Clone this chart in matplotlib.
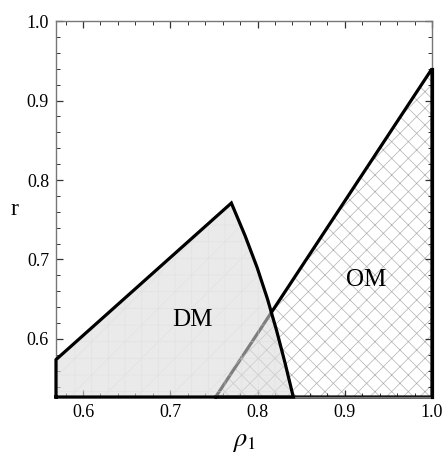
import numpy as np
import matplotlib
matplotlib.use("Agg")
import matplotlib.pyplot as plt
from matplotlib.ticker import MultipleLocator

plt.rcParams['font.family'] = ['Liberation Serif', 'DejaVu Serif']
plt.rcParams['mathtext.fontset'] = 'stix'
plt.rcParams['hatch.linewidth'] = 0.5

# region boundaries
dm_x = [0.569, 0.569, 0.770, 0.7857, 0.7995, 0.8115, 0.8220, 0.8315, 0.841]
dm_y = [0.527, 0.574, 0.771, 0.730, 0.690, 0.650, 0.610, 0.570, 0.527]
om_x = [0.752, 1.000, 1.000]
om_y = [0.527, 0.940, 0.527]
labels = ["DM", "OM"]
label_x = [0.725, 0.925]
label_y = [0.624, 0.674]

fig = plt.figure(figsize=(4.43, 4.53), dpi=100)
ax = fig.add_axes([0.1264, 0.1236, 0.8488, 0.830])

# OM: crosshatched region
ax.fill(om_x, om_y, facecolor='white', edgecolor='#b0b0b0', hatch='xx', linewidth=0, zorder=1)
ax.plot(om_x + [om_x[0]], om_y + [om_y[0]], color='black', lw=2.3,
        solid_joinstyle='miter', clip_on=False, zorder=2)

# DM: translucent gray region on top
ax.fill(dm_x, dm_y, facecolor=(0.86, 0.86, 0.86), alpha=0.58, edgecolor='none', zorder=3)
ax.fill(dm_x, dm_y, facecolor='none', edgecolor='#dadada', hatch='|-/', linewidth=0, alpha=0.5, zorder=3)
ax.plot(dm_x + [dm_x[0]], dm_y + [dm_y[0]], color='black', lw=2.3,
        solid_joinstyle='miter', clip_on=False, zorder=4)
# redraw OM edges outside DM
ax.plot(om_x[1:], om_y[1:], color='black', lw=2.3, clip_on=False, zorder=4)

for t, x, y in zip(labels, label_x, label_y):
    ax.text(x, y, t, fontsize=18, ha='center', va='center', zorder=5)

ax.set_xlim(0.569, 1.0)
ax.set_ylim(0.527, 1.0)
ax.xaxis.set_major_locator(MultipleLocator(0.1))
ax.xaxis.set_minor_locator(MultipleLocator(0.02))
ax.yaxis.set_major_locator(MultipleLocator(0.1))
ax.yaxis.set_minor_locator(MultipleLocator(0.02))
ax.tick_params(which='both', direction='in', top=True, right=True, labelsize=13, color='#333333')
ax.tick_params(which='major', length=5, width=0.9, pad=5)
ax.tick_params(which='minor', length=3, width=0.7)
for s in ax.spines.values():
    s.set_color('#777777')
    s.set_linewidth(1.0)

ax.set_xlabel(r'$\rho_1$', fontsize=19, labelpad=8)
ax.set_ylabel('r', fontsize=17, rotation=0, va='center')
ax.yaxis.set_label_coords(-0.11, 0.5)

fig.savefig('out.png', dpi=100)
